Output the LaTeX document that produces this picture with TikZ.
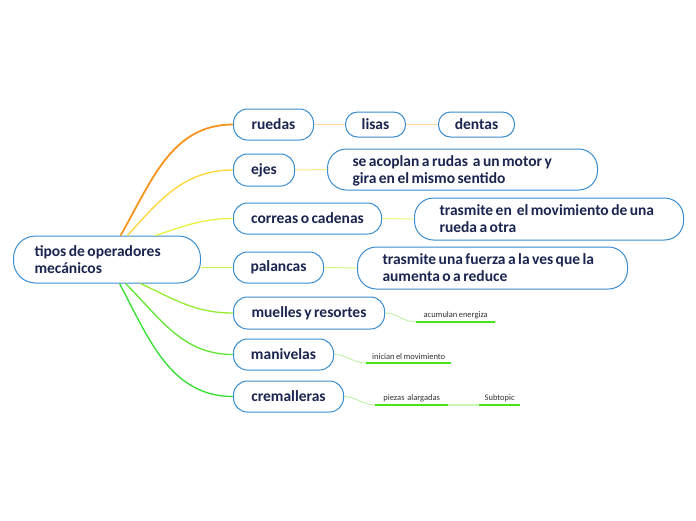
\documentclass[tikz,border=0pt]{standalone}
\usepackage{fontspec}
\setmainfont{Carlito}[WordSpace=0.7]
\definecolor{nodeblue}{HTML}{3A8CD0}
\definecolor{navy}{HTML}{1B2550}
\definecolor{cOrange}{HTML}{F7941D}
\definecolor{cOrangeL}{HTML}{FFD8A0}
\definecolor{cYelOr}{HTML}{FFD633}
\definecolor{cYelOrL}{HTML}{FFE680}
\definecolor{cYel}{HTML}{EAF23C}
\definecolor{cYelL}{HTML}{F0F580}
\definecolor{cYG}{HTML}{C4F04A}
\definecolor{cYGL}{HTML}{D4F57A}
\definecolor{cG1}{HTML}{96EC32}
\definecolor{cG2}{HTML}{5FE630}
\definecolor{cG3}{HTML}{2FE02F}
\definecolor{cGL}{HTML}{B5F29A}
\definecolor{cGU}{HTML}{44E61A}
\definecolor{labgray}{HTML}{333333}
\newcommand{\twolines}[3]{\makebox[#1][l]{\raisebox{0pt}[\dimexpr\height+4pt\relax][\depth]{\begin{tabular}{@{}l@{}}#2\\#3\end{tabular}}}}
\tikzset{
  topic/.style={draw=nodeblue, line width=1pt, fill=white, rounded corners=14pt,
    font=\bfseries\fontsize{15.5}{16.8}\selectfont, text=navy, minimum height=31pt,
    anchor=west, inner sep=0pt},
  multi/.style={topic, rounded corners=19pt},
  lab/.style={font=\fontsize{8.5}{10}\selectfont, text=labgray, anchor=south west,
    inner xsep=0pt, inner ysep=3pt},
  uline/.style={cGU, line width=1.8pt},
  conn/.style={line width=1.3pt},
}
\begin{document}
\begin{tikzpicture}[x=1pt,y=-1pt]
\useasboundingbox[fill=white] (0,0) rectangle (696,520);

% nodes
\node[multi, minimum width=187pt, minimum height=47pt, rounded corners=22pt] (root) at (13,259.5) {\twolines{145pt}{tipos de operadores}{mecánicos}};

\node[topic, minimum width=80pt] (ruedas) at (233,124.5) {ruedas};
\node[topic, minimum width=60pt, minimum height=25pt, rounded corners=12pt] (lisas) at (345,124.5) {lisas};
\node[topic, minimum width=76pt, minimum height=25pt, rounded corners=12pt] (dentas) at (438,124.5) {dentas};

\node[topic, minimum width=61pt, minimum height=32pt] (ejes) at (233,170) {ejes};
\node[multi, minimum width=270pt, minimum height=41pt] (ejesc) at (327,169.5) {\twolines{220pt}{se acoplan a rudas\ \ a un motor y}{gira en el mismo sentido}};

\node[topic, minimum width=148pt] (correas) at (233,218.5) {correas o cadenas};
\node[multi, minimum width=269pt, minimum height=42pt] (correasc) at (414,219) {\twolines{219pt}{trasmite en\ \ el movimiento de una}{rueda a otra}};

\node[topic, minimum width=90pt] (palancas) at (233,267.5) {palancas};
\node[multi, minimum width=270pt, minimum height=42pt] (palancasc) at (357,268) {\twolines{220pt}{trasmite una fuerza a la ves que la}{aumenta o a reduce}};

\node[topic, minimum width=151pt, minimum height=32pt] (muelles) at (233,313) {muelles y resortes};
\node[topic, minimum width=100pt] (manivelas) at (233,354.5) {manivelas};
\node[topic, minimum width=110pt] (cremalleras) at (233,396.5) {cremalleras};

% small labels
\node[lab, minimum width=79pt] (lab1) at (416,322) {acumulan energiza};
\node[lab, minimum width=85pt] (lab2) at (366,363) {inician el movimiento};
\node[lab, minimum width=73pt] (lab3) at (375,405) {piezas\ \ alargadas};
\node[lab, minimum width=41pt] (lab4) at (479,405) {Subtopic};

% root connectors
\draw[conn, cOrange, line width=1.8pt] ([xshift=13.5pt]root.north) to[out=60,in=180] (ruedas.west);
\draw[conn, cYelOr] ([xshift=20.5pt]root.north) to[out=48,in=180] (ejes.west);
\draw[conn, cYel] ([xshift=48.5pt]root.north) to[out=18,in=180] (correas.west);
\draw[conn, cYG] (root.east |- palancas.west) -- (palancas.west);
\draw[conn, cG1] ([xshift=33.5pt]root.south) to[out=-25,in=180] (muelles.west);
\draw[conn, cG2] ([xshift=18.5pt]root.south) to[out=-45,in=180] (manivelas.west);
\draw[conn, cG3] ([xshift=12.5pt]root.south) to[out=-62,in=180] (cremalleras.west);

% child connectors
\draw[cOrangeL, line width=1.3pt] (ruedas.east) -- (lisas.west);
\draw[cOrangeL, line width=1.3pt] (lisas.east) -- (dentas.west);
\draw[cYelOrL, line width=1pt] (ejes.east) -- (ejesc.west);
\draw[cYelL, line width=1pt] (correas.east) -- (correasc.west);
\draw[cYGL, line width=1pt] (palancas.east) -- (palancasc.west);
\draw[cGL, line width=0.8pt] (muelles.east) to[out=0,in=180] (lab1.south west);
\draw[cGL, line width=0.8pt] (manivelas.east) to[out=0,in=180] (lab2.south west);
\draw[cGL, line width=0.8pt] (cremalleras.east) to[out=0,in=180] (lab3.south west);
\draw[cGL!70!white, line width=1.6pt] (lab3.south east) -- (lab4.south west);

% underlines
\draw[uline] (lab1.south west) -- (lab1.south east);
\draw[uline] (lab2.south west) -- (lab2.south east);
\draw[uline] (lab3.south west) -- (lab3.south east);
\draw[uline] (lab4.south west) -- (lab4.south east);
\end{tikzpicture}
\end{document}
